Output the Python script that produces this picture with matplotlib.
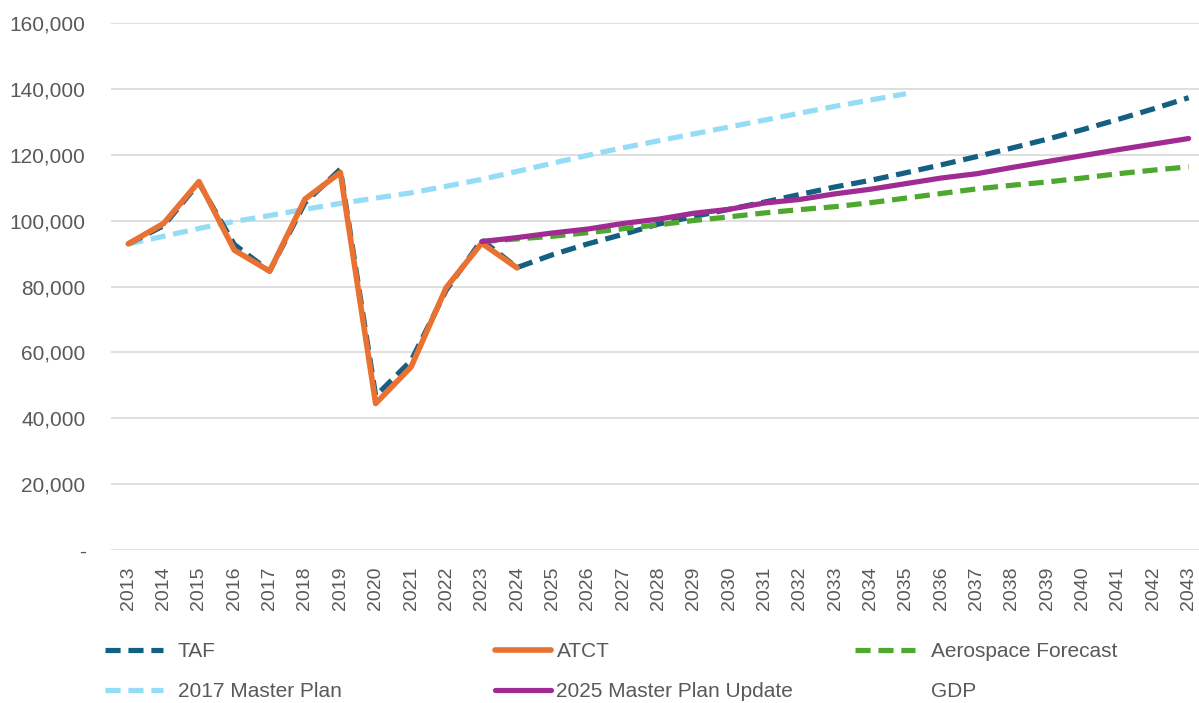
import numpy as np
import matplotlib
matplotlib.use('Agg')
import matplotlib.pyplot as plt
from matplotlib.ticker import FuncFormatter

# Years on the category axis
years = list(range(2013, 2044))

# Series values (NaN where a series has no value)
nan = np.nan
taf = [93000, 98500, 111500, 92800, 84700, 105500, 115700, 46800, 57500, 79000, 94200, 85800,
       89700, 93000, 95900, 99000, 101300, 103500, 105700, 108000, 110300, 112300, 114600,
       117000, 119500, 122100, 124800, 127700, 130800, 134000, 137400]
atct = [93000, 99200, 111900, 91100, 84700, 106600, 114700, 44500, 55600, 79800, 93200, 85700] + [nan] * 19
aerospace = [nan] * 10 + [93700, 94500, 95300, 96400, 97600, 98800, 100100, 101200, 102400, 103400,
                          104300, 105500, 106900, 108300, 109700, 110800, 111800, 113000, 114300,
                          115400, 116400]
mp2017 = [93000, 95300, 97700, 99800, 101600, 103500, 105300, 106900, 108500, 110500, 112600, 115000,
          117500, 119900, 122200, 124300, 126400, 128500, 130600, 132700, 134800, 136700, 138600] + [nan] * 8
mp2025 = [nan] * 10 + [93700, 94900, 96300, 97500, 99200, 100500, 102300, 103500, 105400, 106500,
                       108200, 109600, 111300, 113000, 114300, 116200, 118000, 119800, 121600,
                       123300, 125000]
gdp = [nan] * 10 + [93700, 95000, 96400, 97800, 99300, 100800, 102400, 104000, 105700, 107400,
                    109200, 111100, 113000, 115000, 117100, 119300, 121600, 124000, 126500,
                    129000, 131600]

y_ticks = list(range(0, 160001, 20000))

W, H = 1199, 703
fig = plt.figure(figsize=(W / 100, H / 100), dpi=100)
ax = fig.add_axes([110.6 / W, 153 / H, 1095.7 / W, 526.7 / H])

x = np.arange(len(years))
grey = '#595959'
lw = 3.75
dash = (0, (2.9, 1.5))

l_gdp, = ax.plot(x, gdp, color='white', lw=lw, linestyle=dash, zorder=0.4)
l_mp17, = ax.plot(x, mp2017, color='#95DCF7', lw=lw, linestyle=dash, zorder=2)
l_taf, = ax.plot(x, taf, color='#156082', lw=lw, linestyle=dash, zorder=3)
l_aero, = ax.plot(x, aerospace, color='#4EA72E', lw=lw, linestyle=dash, zorder=3)
l_atct, = ax.plot(x, atct, color='#E97132', lw=lw + 0.3, solid_capstyle='round',
                  solid_joinstyle='round', zorder=4)
l_mp25, = ax.plot(x, mp2025, color='#A02B93', lw=lw, solid_capstyle='round',
                  solid_joinstyle='round', zorder=5)

ax.set_xlim(-0.5, len(years) - 0.5)
ax.set_ylim(0, 160000)
ax.set_yticks(y_ticks)
ax.yaxis.set_major_formatter(FuncFormatter(lambda v, p: '-' if v == 0 else f'{v:,.0f}'))
ax.set_xticks(x)
ax.set_xticklabels([str(y) for y in years], rotation=90)

ax.set_axisbelow(True)
ax.grid(axis='y', color='#d9d9d9', lw=1.2, zorder=0.5)
for s in ax.spines.values():
    s.set_visible(False)
ax.tick_params(axis='y', length=0, pad=18, labelsize=15, labelcolor=grey)
ax.tick_params(axis='x', length=0, pad=12, labelsize=14, labelcolor=grey)
for t in ax.get_xticklabels() + ax.get_yticklabels():
    t.set_fontfamily('Liberation Sans')

# Legend in three columns placed like the original
cols = [
    ([l_taf, l_mp17], ['TAF', '2017 Master Plan'], 105, 2.8, 0.7),
    ([l_atct, l_mp25], ['ATCT', '2025 Master Plan Update'], 495, 2.7, 0.25),
    ([l_aero, l_gdp], ['Aerospace Forecast', 'GDP'], 855, 2.9, 0.75),
]
for handles, labels, x0, hl, hp in cols:
    leg = fig.legend(handles, labels, loc='upper left', bbox_to_anchor=(x0 / W, 1 - 642 / H),
                     frameon=False, borderpad=0, borderaxespad=0, handlelength=hl,
                     handletextpad=hp, labelspacing=1.0,
                     prop={'family': 'Liberation Sans', 'size': 15})
    for t in leg.get_texts():
        t.set_color(grey)

fig.savefig('out.png', dpi=100)
